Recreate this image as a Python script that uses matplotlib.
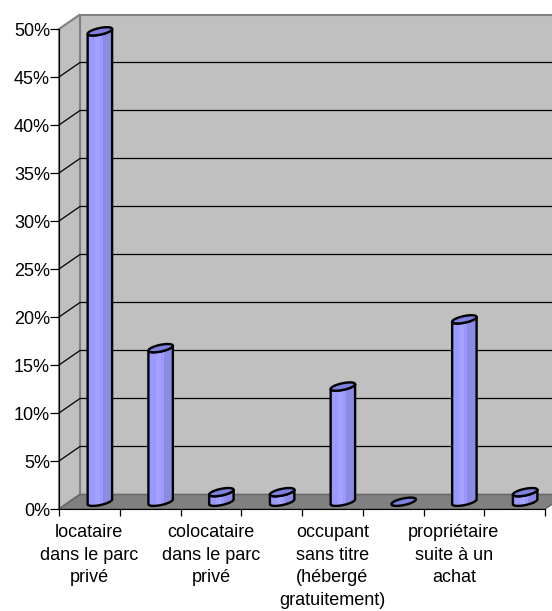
import numpy as np
import matplotlib.pyplot as plt
from matplotlib.patches import Polygon, Rectangle
from matplotlib.transforms import Affine2D

# categories (Excel only printed every other label)
categories = ["locataire\ndans le parc\nprivé", "",
              "colocataire\ndans le parc\nprivé", "",
              "occupant\nsans titre\n(hébergé\ngratuitement)", "",
              "propriétaire\nsuite à un\nachat", ""]
values = [49, 16, 1, 1, 12, 0, 19, 1]
yticks = [0, 5, 10, 15, 20, 25, 30, 35, 40, 45, 50]
ytick_labels = ["0%", "5%", "10%", "15%", "20%", "25%", "30%", "35%", "40%", "45%", "50%"]

plt.rcParams['font.family'] = ['Liberation Sans', 'DejaVu Sans']

W, H = 552, 611
fig = plt.figure(figsize=(W / 100, H / 100), dpi=100)
# front plane of the 3d box, in pixels
x0, x1, y0, y1 = 59, 545, 509, 29
ax = fig.add_axes([x0 / W, 1 - y0 / H, (x1 - x0) / W, (y0 - y1) / H])
n = len(values)
ymax = yticks[-1]
ax.set_xlim(0, n)
ax.set_ylim(0, ymax)
ax.patch.set_visible(False)

sx = (x1 - x0) / n      # px per category
sy = (y0 - y1) / ymax   # px per percent
DX = 21 / sx            # depth offset in data units
DY = 14.5 / sy
px = Affine2D().scale(1 / sx, 1 / sy) + ax.transData

# walls and floor
ax.add_patch(Rectangle((DX, DY), n, ymax, fc='#C0C0C0', ec='#808080', lw=1.5,
                       zorder=0, clip_on=False))
ax.add_patch(Polygon([(0, 0), (DX, DY), (DX, ymax + DY), (0, ymax)],
                     fc='#C0C0C0', ec='#808080', lw=1.5, zorder=0, clip_on=False))
ax.add_patch(Polygon([(0, 0), (n, 0), (n + DX, DY), (DX, DY)],
                     fc='#808080', ec='#6a6a6a', lw=1.2, zorder=1, clip_on=False))
for t in yticks[1:-1]:
    ax.plot([0, DX, n + DX], [t, t + DY, t + DY], color='black', lw=0.9,
            zorder=1, clip_on=False)


def ell(cx, yc, t, a=12.5, b=3.3, th=np.radians(12)):
    x = a * np.cos(t)
    y = b * np.sin(t)
    return np.column_stack([cx + x * np.cos(th) - y * np.sin(th),
                            yc + x * np.sin(th) + y * np.cos(th)])


for i, v in enumerate(values):
    cx = (i + 0.5 + DX / 2) * sx
    by = DY / 2 * sy
    ty = by + v * sy
    if v > 0:
        body = np.vstack([ell(cx, by, np.linspace(np.pi, 2 * np.pi, 30)),
                          ell(cx, ty, np.linspace(2 * np.pi, np.pi, 30))])
        bp = Polygon(body, fc='#9999FF', ec='none', transform=px, zorder=3)
        ax.add_patch(bp)
        stripe = Rectangle((cx - 5, by - 10), 5, ty - by + 20, fc='#A3A3FF', ec='none',
                           transform=px, zorder=3)
        ax.add_patch(stripe)
        stripe.set_clip_path(bp)
        dark = Rectangle((cx + 3, by - 10), 12, ty - by + 20, fc='#8B8BE6', ec='none',
                         transform=px, zorder=3)
        ax.add_patch(dark)
        dark.set_clip_path(bp)
        ax.add_patch(Polygon(body, fc='none', ec='black', lw=1.7, transform=px,
                             zorder=3, clip_on=False))
    cap = ell(cx, ty, np.linspace(0, 2 * np.pi, 60))
    ax.add_patch(Polygon(cap, fc='#8080E0', ec='black', lw=1.7, transform=px,
                         zorder=3, clip_on=False))

for s in ['top', 'right']:
    ax.spines[s].set_visible(False)
ax.spines['left'].set_color('black')
ax.spines['bottom'].set_color('black')
ax.spines['left'].set_zorder(2)
ax.spines['bottom'].set_zorder(2)

ax.set_yticks(yticks, ytick_labels)
ax.tick_params(axis='y', direction='out', length=6.5, width=0.9, pad=0, labelsize=13)
ax.set_xticks(range(n + 1), [''] * (n + 1))
ax.set_xticks([i + 0.5 for i in range(n)], categories, minor=True)
ax.tick_params(axis='x', which='major', direction='out', length=5, width=0.9)
ax.tick_params(axis='x', which='minor', length=0, pad=11, labelsize=13)
for lab in ax.get_xticklabels(minor=True):
    lab.set_linespacing(1.42)

fig.savefig('out.png', dpi=100)
